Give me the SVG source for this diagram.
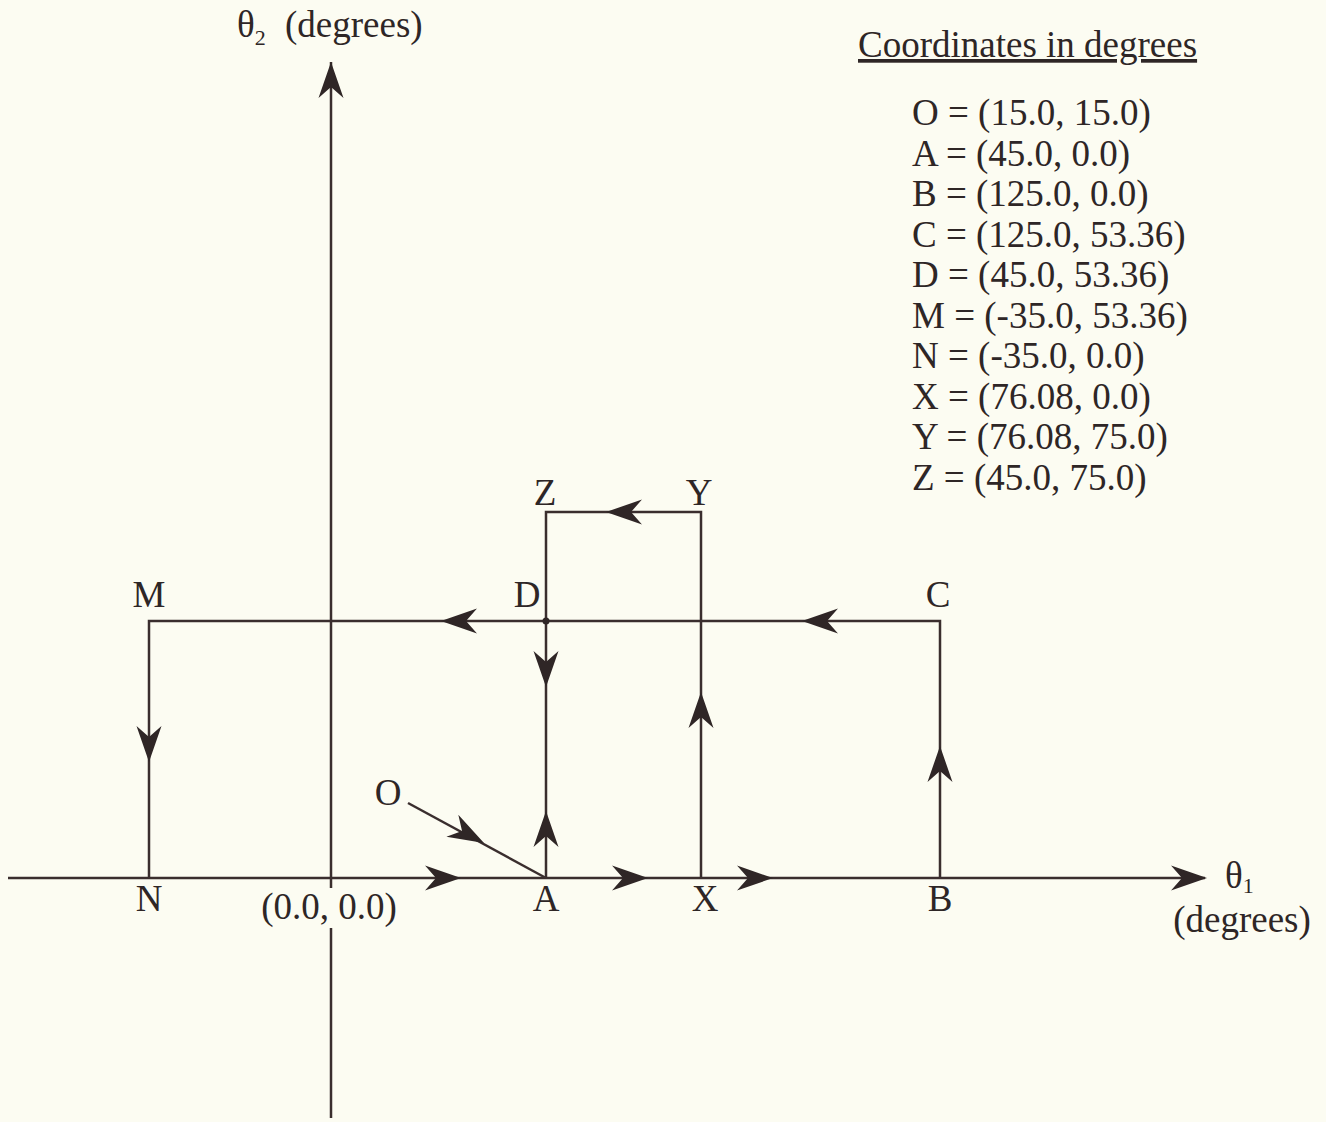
<svg xmlns="http://www.w3.org/2000/svg" width="1326" height="1122" viewBox="0 0 1326 1122">
  <style>
    .ln { stroke: #3a2e2e; stroke-width: 2.5; fill: none; stroke-linecap: butt; }
    .ah { fill: #2f2626; }
    text { font-family: "Liberation Serif", "Times New Roman", serif; font-size: 37px; fill: #2e2626; }
    .c { text-anchor: middle; }
    .sub { font-size: 22px; }
  </style>
  <defs>
    <path id="ah" d="M0,0 L-36,-12.5 L-25,0 L-36,12.5 Z"/>
  </defs>
  <rect width="1326" height="1122" fill="#fcfcf2"/>

  <g id="connectors">
    <line class="ln" x1="8" y1="878" x2="1205" y2="878"/>
    <line class="ln" x1="331" y1="62" x2="331" y2="888"/>
    <line class="ln" x1="331" y1="928" x2="331" y2="1118"/>
    <polyline class="ln" points="149,878 149,621 940,621 940,878"/>
    <polyline class="ln" points="546,878 546,512 701,512 701,878"/>
    <line class="ln" x1="408" y1="803" x2="546" y2="878"/>
    <circle cx="546" cy="621" r="3.5" fill="#2f2626"/>
    <g class="ah">
      <use href="#ah" transform="translate(331,62) rotate(-90)"/>
      <use href="#ah" transform="translate(1207,878)"/>
      <use href="#ah" transform="translate(461,878)"/>
      <use href="#ah" transform="translate(648,878)"/>
      <use href="#ah" transform="translate(773,878)"/>
      <use href="#ah" transform="translate(484,843) rotate(28.5)"/>
      <use href="#ah" transform="translate(546,811) rotate(-90)"/>
      <use href="#ah" transform="translate(546,687) rotate(90)"/>
      <use href="#ah" transform="translate(701,692) rotate(-90)"/>
      <use href="#ah" transform="translate(940,746) rotate(-90)"/>
      <use href="#ah" transform="translate(802,621) rotate(180)"/>
      <use href="#ah" transform="translate(441,621) rotate(180)"/>
      <use href="#ah" transform="translate(149,762) rotate(90)"/>
      <use href="#ah" transform="translate(606,512) rotate(180)"/>
    </g>
  </g>

  <g id="axis-theta2"><text x="237" y="37">θ<tspan class="sub" dy="8">2</tspan><tspan dy="-8" x="285">(degrees)</tspan></text></g>
  <g id="axis-theta1">
    <text x="1225" y="888">θ<tspan class="sub" dy="5">1</tspan></text>
    <text x="1242" y="932" class="c">(degrees)</text>
  </g>
  <g id="origin"><text x="329" y="919" class="c">(0.0, 0.0)</text></g>
  <g id="node-O"><text x="388" y="805" class="c">O</text></g>
  <g id="node-A"><text x="546" y="911" class="c">A</text></g>
  <g id="node-X"><text x="705" y="911" class="c">X</text></g>
  <g id="node-B"><text x="940" y="911" class="c">B</text></g>
  <g id="node-N"><text x="149" y="911" class="c">N</text></g>
  <g id="node-M"><text x="149" y="607" class="c">M</text></g>
  <g id="node-D"><text x="527" y="607" class="c">D</text></g>
  <g id="node-C"><text x="938" y="607" class="c">C</text></g>
  <g id="node-Z"><text x="545" y="505" class="c">Z</text></g>
  <g id="node-Y"><text x="699" y="505" class="c">Y</text></g>

  <g id="legend">
    <text x="858" y="57" text-decoration="underline">Coordinates in degrees</text>
    <text x="912" y="125">O = (15.0, 15.0)</text>
    <text x="912" y="165.5">A = (45.0, 0.0)</text>
    <text x="912" y="206">B = (125.0, 0.0)</text>
    <text x="912" y="246.5">C = (125.0, 53.36)</text>
    <text x="912" y="287">D = (45.0, 53.36)</text>
    <text x="912" y="327.5">M = (-35.0, 53.36)</text>
    <text x="912" y="368">N = (-35.0, 0.0)</text>
    <text x="912" y="408.5">X = (76.08, 0.0)</text>
    <text x="912" y="449">Y = (76.08, 75.0)</text>
    <text x="912" y="489.5">Z = (45.0, 75.0)</text>
  </g>
</svg>
